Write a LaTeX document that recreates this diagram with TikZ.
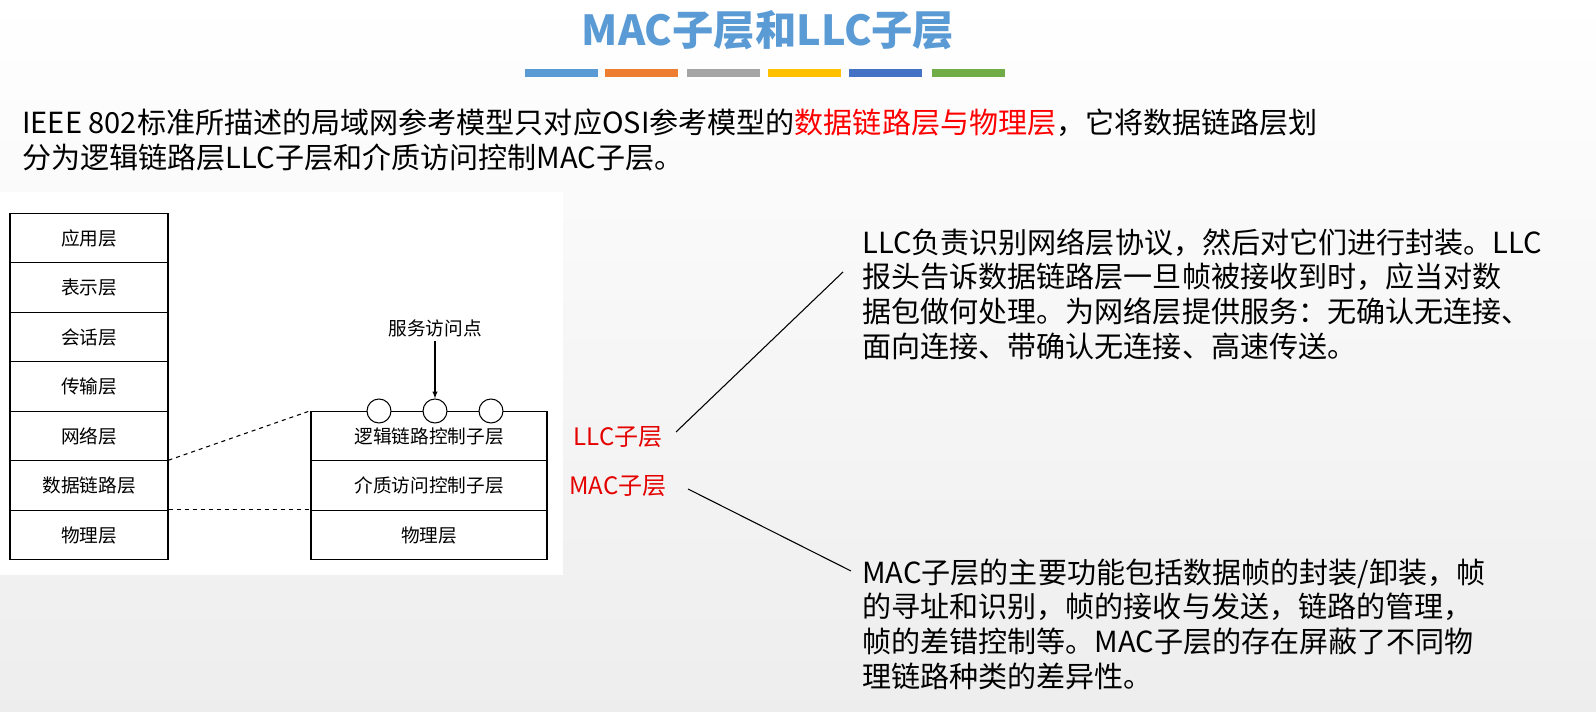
\documentclass[tikz,border=0pt]{standalone}
\usepackage{fontspec}
\setmainfont{Noto Sans CJK SC}
\begin{document}
\begin{tikzpicture}[x=0.75pt,y=-0.75pt,
  lay/.style={draw,thick,minimum width=158*0.75pt,minimum height=49.5*0.75pt,inner sep=0pt,font=\fontsize{14}{16}\selectfont},
  lay2/.style={draw,thick,minimum width=236*0.75pt,minimum height=49.5*0.75pt,inner sep=0pt,font=\fontsize{14}{16}\selectfont},
  sap/.style={draw,thick,fill=white,circle,minimum size=24*0.75pt,inner sep=0pt},
  body/.style={anchor=west,align=left,inner sep=0pt,font=\fontsize{21.8}{26}\selectfont},
  red/.style={text=red!90!black}]
\shade[top color=white,bottom color=black!7] (0,0) rectangle (1596,712);
\fill[white] (0,192) rectangle (563,575);
\node[font=\bfseries\fontsize{31}{34}\selectfont,text={rgb,255:red,91;green,155;blue,213}] (title) at (768,30) {MAC子层和LLC子层};
\foreach \x/\c in {525/{rgb,255:red,91;green,155;blue,213},605/{rgb,255:red,237;green,125;blue,49},687/{rgb,255:red,165;green,165;blue,165},768/{rgb,255:red,255;green,192;blue,0},849/{rgb,255:red,68;green,114;blue,196},932/{rgb,255:red,112;green,173;blue,71}}
  \fill[fill=\c] (\x,69) rectangle ++(73,8);
\node[body] (intro) at (22,140) {IEEE 802标准所描述的局域网参考模型只对应OSI参考模型的\textcolor{red}{数据链路层与物理层}，它将数据链路层划\\分为逻辑链路层LLC子层和介质访问控制MAC子层。};
\foreach \n/\t [count=\i from 0] in {a/应用层,b/表示层,c/会话层,d/传输层,e/网络层,f/数据链路层,g/物理层}
  \node[lay] (L\n) at (89,238+49.5*\i) {\t};
\node[lay2] (R1) at (429,436) {逻辑链路控制子层};
\node[lay2] (R2) at (429,485.5) {介质访问控制子层};
\node[lay2] (R3) at (429,535) {物理层};
\foreach \x [count=\i] in {379,435,491} \node[sap] (s\i) at (\x,411) {};
\node[font=\fontsize{14}{16}\selectfont] (sapl) at (435,328) {服务访问点};
\draw[thick,-latex] (sapl.south) -- (s2.north);
\draw[thick,dashed] (Lf.north east) -- (R1.north west);
\draw[thick,dashed] (Lg.north east) -- (R3.north west);
\node[red,font=\fontsize{18}{20}\selectfont,inner sep=0pt] (llc) at (618,437) {LLC子层};
\node[red,font=\fontsize{18}{20}\selectfont,inner sep=0pt] (mac) at (618,486) {MAC子层};
\coordinate (t1) at (843,272);
\coordinate (t2) at (851,571);
\draw[thick] (676,432) -- (t1);
\draw[thick] (688,489) -- (t2);
\node[body] (llct) at (862,294) {LLC负责识别网络层协议，然后对它们进行封装。LLC\\报头告诉数据链路层一旦帧被接收到时，应当对数\\据包做何处理。为网络层提供服务：无确认无连接、\\面向连接、带确认无连接、高速传送。};
\node[body] (mact) at (862,624) {MAC子层的主要功能包括数据帧的封装/卸装，帧\\的寻址和识别，帧的接收与发送，链路的管理，\\帧的差错控制等。MAC子层的存在屏蔽了不同物\\理链路种类的差异性。};
\pgfresetboundingbox
\useasboundingbox (0,0) rectangle (1596,712);
\end{tikzpicture}
\end{document}
